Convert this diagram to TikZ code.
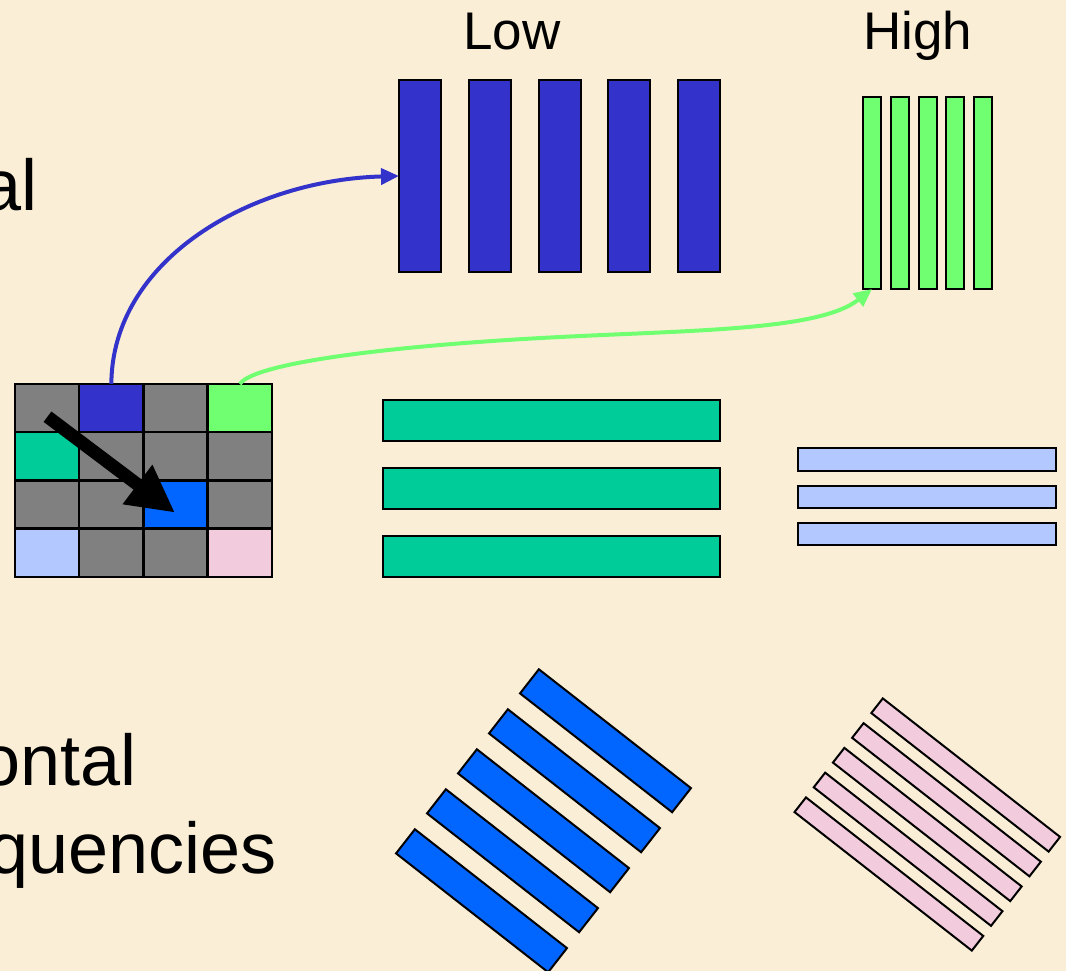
\documentclass[tikz,border=0pt]{standalone}
\usepackage{fontspec}
\setmainfont{Liberation Sans}
\usetikzlibrary{arrows.meta}
\definecolor{bg}{RGB}{250,239,214}
\definecolor{lowblue}{RGB}{51,51,204}
\definecolor{hgreen}{RGB}{112,255,112}
\definecolor{teal2}{RGB}{0,204,153}
\definecolor{lblue}{RGB}{179,200,255}
\definecolor{pink2}{RGB}{242,204,221}
\definecolor{dblue}{RGB}{0,102,255}
\definecolor{cgray}{RGB}{128,128,128}
\tikzset{
  cell/.style={draw=black, line width=2.5pt, minimum width=64.25pt, minimum height=48.25pt, inner sep=0pt, outer sep=0pt},
  bar/.style={draw=black, line width=2pt, inner sep=0pt, outer sep=0pt},
  bigtxt/.style={font=\fontsize{72}{86}\selectfont, inner sep=0pt, anchor=base east},
  lbl/.style={font=\fontsize{53}{64}\selectfont, inner sep=0pt, anchor=base},
  conn/.style={line width=4pt, -{Triangle[length=18pt,width=16pt]}}
}
\begin{document}
\begin{tikzpicture}[x=1pt,y=-1pt]
\fill[bg] (0,0) rectangle (1066,971);
\useasboundingbox (0,0) rectangle (1066,971);

% left text (cut at the left edge)
\node[bigtxt] (t1) at (38,210) {al};
\node[bigtxt] (t2) at (137,785) {ontal};
\node[bigtxt] (t3) at (277,873) {quencies};

% labels
\node[lbl] (low) at (512,50) {Low};
\node[lbl] (high) at (917.5,50) {High};

% grid
\foreach \r/\c/\col in {0/0/cgray,0/1/lowblue,0/2/cgray,0/3/hgreen,
                        1/0/teal2,1/1/cgray,1/2/cgray,1/3/cgray,
                        2/0/cgray,2/1/cgray,2/2/dblue,2/3/cgray,
                        3/0/lblue,3/1/cgray,3/2/cgray,3/3/pink2}
  \node[cell, fill=\col] (c\r\c) at ({47.1+64.25*\c},{408.1+48.25*\r}) {};

% low frequency vertical bars
\foreach \i in {0,...,4}
  \node[bar, fill=lowblue, minimum width=42pt, minimum height=192pt] (lb\i) at ({420+69.75*\i},176) {};
% high frequency vertical bars
\foreach \i in {0,...,4}
  \node[bar, fill=hgreen, minimum width=18pt, minimum height=192pt] (hb\i) at ({872+27.75*\i},193) {};
% low frequency horizontal bars
\foreach \i in {0,...,2}
  \node[bar, fill=teal2, minimum width=337pt, minimum height=41pt] (tb\i) at (551.5,{420.5+68*\i}) {};
% high frequency horizontal bars
\foreach \i in {0,...,2}
  \node[bar, fill=lblue, minimum width=258pt, minimum height=22.5pt] (pb\i) at (927,{459.5+37.25*\i}) {};
% diagonal low
\foreach \i in {0,...,4}
  \node[bar, fill=dblue, rotate=-38, minimum width=193pt, minimum height=30.6pt] (db\i) at ({605.5-31*\i},{740.75+40*\i}) {};
% diagonal high
\foreach \i in {0,...,4}
  \node[bar, fill=pink2, rotate=-38, minimum width=225pt, minimum height=18.6pt] (kb\i) at ({965.7-19.2*\i},{775+24.75*\i}) {};

% connectors
\draw[conn, lowblue] (c01.north) .. controls (112,260) and (250,180) .. (lb0.west);
\coordinate (gmid) at (560,337);
\draw[conn, hgreen] (c03.north) .. controls (255,362) and (400,345) .. (gmid)
                               .. controls (700,330) and (820,330) .. (hb0.south);

% black diagonal arrow in grid
\coordinate (as) at (47.5,416.7);
\coordinate (ae) at (175,512.7);
\draw[line width=13pt, -{Triangle[length=47pt,width=46pt]}] (as) -- (ae);
\end{tikzpicture}
\end{document}
